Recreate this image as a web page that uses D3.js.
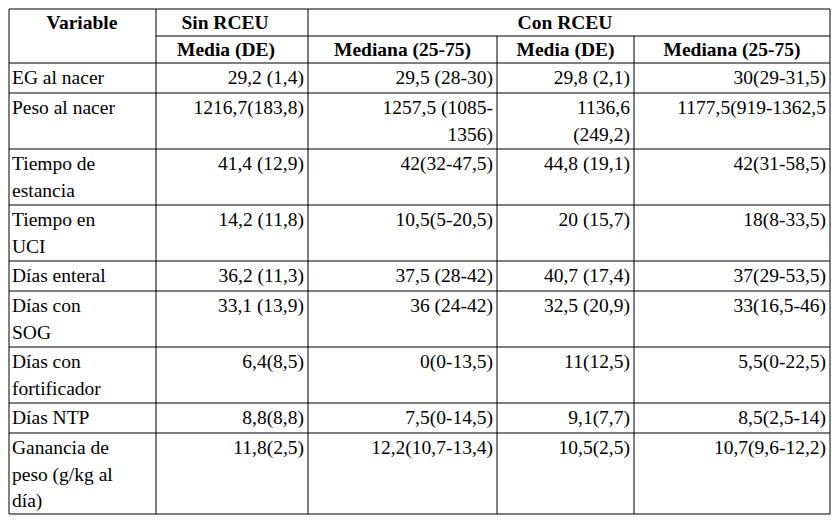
<!DOCTYPE html>
<html><head><meta charset="utf-8">
<script src="https://cdn.jsdelivr.net/npm/d3@7"></script>
<style>body{margin:0;background:#fff}</style>
</head><body><svg id="t" width="837" height="520"></svg>
<script>
// row labels and cell values ("\n" = line break as in the source)
const variables = ["EG al nacer", "Peso al nacer", "Tiempo de\nestancia", "Tiempo en\nUCI", "Días enteral",
  "Días con\nSOG", "Días con\nfortificador", "Días NTP", "Ganancia de\npeso (g/kg al\ndía)"];
const sinMedia = ["29,2 (1,4)", "1216,7(183,8)", "41,4 (12,9)", "14,2 (11,8)", "36,2 (11,3)", "33,1 (13,9)", "6,4(8,5)", "8,8(8,8)", "11,8(2,5)"];
const sinMediana = ["29,5 (28-30)", "1257,5 (1085-\n1356)", "42(32-47,5)", "10,5(5-20,5)", "37,5 (28-42)", "36 (24-42)", "0(0-13,5)", "7,5(0-14,5)", "12,2(10,7-13,4)"];
const conMedia = ["29,8 (2,1)", "1136,6\n(249,2)", "44,8 (19,1)", "20 (15,7)", "40,7 (17,4)", "32,5 (20,9)", "11(12,5)", "9,1(7,7)", "10,5(2,5)"];
const conMediana = ["30(29-31,5)", "1177,5(919-1362,5", "42(31-58,5)", "18(8-33,5)", "37(29-53,5)", "33(16,5-46)", "5,5(0-22,5)", "8,5(2,5-14)", "10,7(9,6-12,2)"];
const subHeaders = ["Media (DE)", "Mediana (25-75)", "Media (DE)", "Mediana (25-75)"];

const colX = [9, 156, 308, 497, 634, 830];
const rowLines = [1, 2, 2, 2, 1, 2, 2, 1, 3]; // lines per body row
const lh = 26.5, y0 = 9, hdr = 27;
const rowY = [y0, y0 + hdr, y0 + 2 * hdr];
rowLines.forEach(n => rowY.push(rowY[rowY.length - 1] + (n === 1 ? 30 : n * lh + 3)));
rowY[rowY.length - 1] = 514;

const svg = d3.select("#t");
const g = svg.append("g").attr("font-family", "Liberation Serif, serif").attr("font-size", 19.5).attr("fill", "#000");
const line = (x1, y1, x2, y2) => g.append("line").attr("x1", x1).attr("y1", y1).attr("x2", x2).attr("y2", y2)
  .attr("stroke", "#000").attr("stroke-width", 1);

// borders
rowY.forEach((y, i) => { if (i === 1) line(colX[1], y, colX[5], y); else line(colX[0], y, colX[5], y); });
colX.forEach((x, i) => {
  if (i === 3 || i === 4) line(x, rowY[1], x, rowY[rowY.length - 1]);
  else line(x, y0, x, rowY[rowY.length - 1]);
});

function cell(txt, x, y, anchor, bold) {
  const t = g.append("text").attr("text-anchor", anchor).attr("font-weight", bold ? "bold" : null);
  txt.split("\n").forEach((s, k) => t.append("tspan").attr("x", x).attr("y", y + 20 + k * lh).text(s));
}

cell("Variable", 82, y0, "middle", true);
cell("Sin RCEU", 225, y0, "middle", true);
cell("Con RCEU", 565, y0, "middle", true);
subHeaders.forEach((s, j) => cell(s, (colX[j + 1] + colX[j + 2]) / 2 - (j === 0 ? 6 : 0), rowY[1], "middle", true));

const cols = [sinMedia, sinMediana, conMedia, conMediana];
variables.forEach((v, i) => {
  const y = rowY[i + 2] + 1;
  cell(v, colX[0] + 3, y, "start");
  cols.forEach((c, j) => cell(c[i], colX[j + 2] - 4, y, "end"));
});
</script></body></html>
